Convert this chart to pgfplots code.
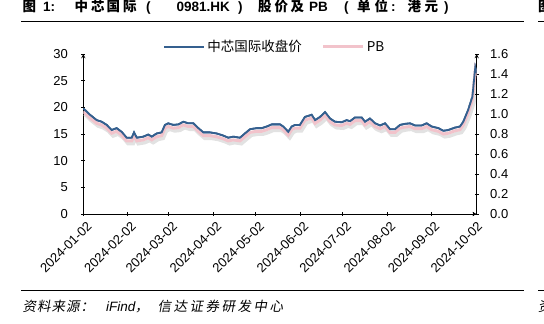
\documentclass[border=0pt]{standalone}
\usepackage{fontspec}
\usepackage{pgfplots}
\pgfplotsset{compat=1.18}
\setmainfont{Liberation Sans}
\newfontfamily\cjk{Noto Sans CJK SC}
\newfontfamily\cjksl[FakeSlant=0.18]{Noto Sans CJK SC}
\definecolor{priceblue}{HTML}{35608F}
\definecolor{pbpink}{HTML}{F2C3CB}
\definecolor{shadowgray}{HTML}{E2E2E2}

\pgfplotstableread{
day price
0 19.8
4.7 18.6
9.4 17.6
12.9 17.3
16.4 16.7
19.9 15.75
23.4 16.1
26.9 15.4
30.4 14.3
34.0 14.3
35.6 15.3
37.5 14.3
42.1 14.5
45.6 14.9
48.0 14.5
51.5 15.1
55.0 15.3
57.3 16.7
59.6 17.0
63.1 16.7
66.7 16.8
70.2 17.3
73.7 17.0
77.2 17.0
80.7 16.1
84.2 15.3
88.9 15.3
93.6 15.1
98.2 14.7
101.7 14.3
105.2 14.5
109.9 14.3
113.4 15.1
117.0 15.9
121.7 16.1
125.2 16.1
128.7 16.4
132.2 16.8
136.8 16.8
138.0 16.8
140.3 16.4
143.8 15.4
146.2 16.4
148.5 16.7
152.0 16.7
155.5 18.2
160.2 18.6
162.6 17.6
166.1 18.2
169.6 19.1
173.1 17.9
176.6 17.3
181.3 17.2
184.8 17.6
187.1 17.4
190.6 18.1
195.3 18.1
197.6 17.3
201.1 17.9
204.7 17.0
208.2 16.6
211.7 17.0
215.2 15.9
218.7 15.9
222.2 16.7
225.7 16.9
229.2 17.0
232.7 16.6
237.4 16.6
240.9 17.0
244.4 16.4
249.1 16.1
252.6 15.6
256.1 15.75
260.8 16.2
264.3 16.4
266.6 17.3
270.0 19.5
273.0 22.0
275.0 27.5
276.0 26.5
}\pricetable

\pgfplotstableread{
day pb
0 1.024
4.7 0.960
9.4 0.907
12.9 0.891
16.4 0.859
19.9 0.808
23.4 0.827
26.9 0.789
30.4 0.731
34.0 0.731
35.6 0.784
37.5 0.731
42.1 0.741
45.6 0.763
48.0 0.741
51.5 0.773
55.0 0.784
57.3 0.859
59.6 0.875
63.1 0.859
66.7 0.864
70.2 0.891
73.7 0.875
77.2 0.875
80.7 0.827
84.2 0.784
88.9 0.784
93.6 0.773
98.2 0.752
101.7 0.731
105.2 0.741
109.9 0.731
113.4 0.773
117.0 0.816
121.7 0.827
125.2 0.827
128.7 0.843
132.2 0.864
136.8 0.864
138.0 0.864
140.3 0.843
143.8 0.789
146.2 0.843
148.5 0.859
152.0 0.859
155.5 0.939
160.2 0.960
162.6 0.907
166.1 0.939
169.6 0.987
173.1 0.923
176.6 0.891
181.3 0.885
184.8 0.907
187.1 0.896
190.6 0.933
195.3 0.933
197.6 0.891
201.1 0.923
204.7 0.875
208.2 0.853
211.7 0.875
215.2 0.816
218.7 0.816
222.2 0.859
225.7 0.869
229.2 0.875
232.7 0.853
237.4 0.853
240.9 0.875
244.4 0.843
249.1 0.827
252.6 0.800
256.1 0.808
260.8 0.832
264.3 0.843
266.6 0.891
270.0 1.008
273.0 1.141
275.0 1.435
276.0 1.381
}\pbtable

\pgfplotsset{
  base/.style={
    scale only axis, width=393.4pt, height=160pt,
    xmin=0, xmax=276,
    tick align=inside,
    major tick length=4pt,
    axis line style={-, line width=0.9pt},
    every tick/.style={black, line width=0.8pt},
    tick label style={font=\fontsize{13}{15}\selectfont},
    /pgf/number format/assume math mode=true,
  },
}

\begin{document}
\begin{tikzpicture}
\useasboundingbox (0pt,0pt) rectangle (544pt,324pt);
% title, placed piece by piece to follow the reference spacing
\begin{scope}[every node/.style={anchor=base west, inner sep=0pt, font=\bfseries\fontsize{13.5}{16}\selectfont}]
\node at (22.5pt,312pt) {\cjk 图};
\node at (43pt,312pt) {1:};
\node at (74.5pt,312pt) {\cjk 中};
\node at (91pt,312pt) {\cjk 芯};
\node at (106.5pt,312pt) {\cjk 国};
\node at (123pt,312pt) {\cjk 际};
\node at (146pt,312pt) {(};
\node at (176.5pt,312pt) {0981.HK};
\node at (238pt,312pt) {)};
\node at (258pt,312pt) {\cjk 股};
\node at (274.5pt,312pt) {\cjk 价};
\node at (290.5pt,312pt) {\cjk 及};
\node at (309pt,312pt) {PB};
\node at (344pt,312pt) {(};
\node at (357pt,312pt) {\cjk 单};
\node at (374.5pt,312pt) {\cjk 位};
\node at (391pt,312pt) {:};
\node at (407.5pt,312pt) {\cjk 港};
\node at (424.5pt,312pt) {\cjk 元};
\node at (444pt,312pt) {)};
\node at (538pt,312pt) {\cjk 图};
\end{scope}
\draw[line width=1.2pt] (21pt,302.5pt) -- (524pt,302.5pt);
\draw[line width=1.2pt] (538pt,302.5pt) -- (550pt,302.5pt);
% source
\draw[line width=1pt] (21pt,33pt) -- (524pt,33pt);
\draw[line width=1pt] (538pt,33pt) -- (550pt,33pt);
\begin{scope}[every node/.style={anchor=base west, inner sep=0pt, font=\fontsize{13.5}{15}\selectfont}]
\foreach \c [count=\i from 0] in {资,料,来,源,：}
  \node at ({22.5pt+\i*14.5pt},12pt) {\cjksl \c};
\node at (106pt,12pt) {\textit{iFind}};
\node at (135pt,12pt) {\cjksl ，};
\foreach \c [count=\i from 0] in {信,达,证,券,研,发,中,心}
  \node at ({157.5pt+\i*16pt},12pt) {\cjksl \c};
\node at (538pt,12pt) {\cjksl 资};
\end{scope}

\begin{axis}[base, name=ax1,
  at={(83.3pt,110pt)}, anchor=south west,
  axis x line=bottom, axis y line=left,
  ymin=0, ymax=30, ytick={0,5,...,30},
  xtick={0,31,60,91,121,152,182,213,244,274},
  xticklabels={2024-01-02,2024-02-02,2024-03-02,2024-04-02,2024-05-02,2024-06-02,2024-07-02,2024-08-02,2024-09-02,2024-10-02},
  xticklabel style={rotate=45, anchor=north east, inner sep=1pt, yshift=-4pt},
  yticklabel style={xshift=-10pt},
  legend columns=2,
  legend style={draw=none, fill=none, at={(0.487,1.044)}, anchor=center,
    font=\fontsize{13.5}{15}\selectfont\cjk,
    /tikz/every even column/.append style={column sep=18pt}},
  legend image code/.code={\draw[#1] (0pt,0pt) -- (40pt,0pt);},
]
\addplot[shadowgray, line width=3.5pt, forget plot, xshift=1.5pt, yshift=-6pt] table[x=day, y=price] {\pricetable};
\addplot[priceblue, line width=1.8pt] table[x=day, y=price] {\pricetable};
\addlegendimage{pbpink, line width=3pt}
\legend{中芯国际收盘价,PB}
\end{axis}
\begin{axis}[base,
  at={(ax1.south west)}, anchor=south west,
  axis y line=right, axis x line=none,
  ymin=0, ymax=1.6, ytick={0,0.2,...,1.6},
  yticklabel style={/pgf/number format/fixed, /pgf/number format/fixed zerofill, /pgf/number format/precision=1, xshift=8pt},
]
\addplot[pbpink, line width=3pt] table[x=day, y=pb] {\pbtable};
\end{axis}
\begin{axis}[base,
  at={(ax1.south west)}, anchor=south west,
  axis x line=none, axis y line=none,
  ymin=0, ymax=30,
]
\addplot[priceblue, line width=1.8pt] table[x=day, y=price] {\pricetable};
\end{axis}
\end{tikzpicture}
\end{document}
